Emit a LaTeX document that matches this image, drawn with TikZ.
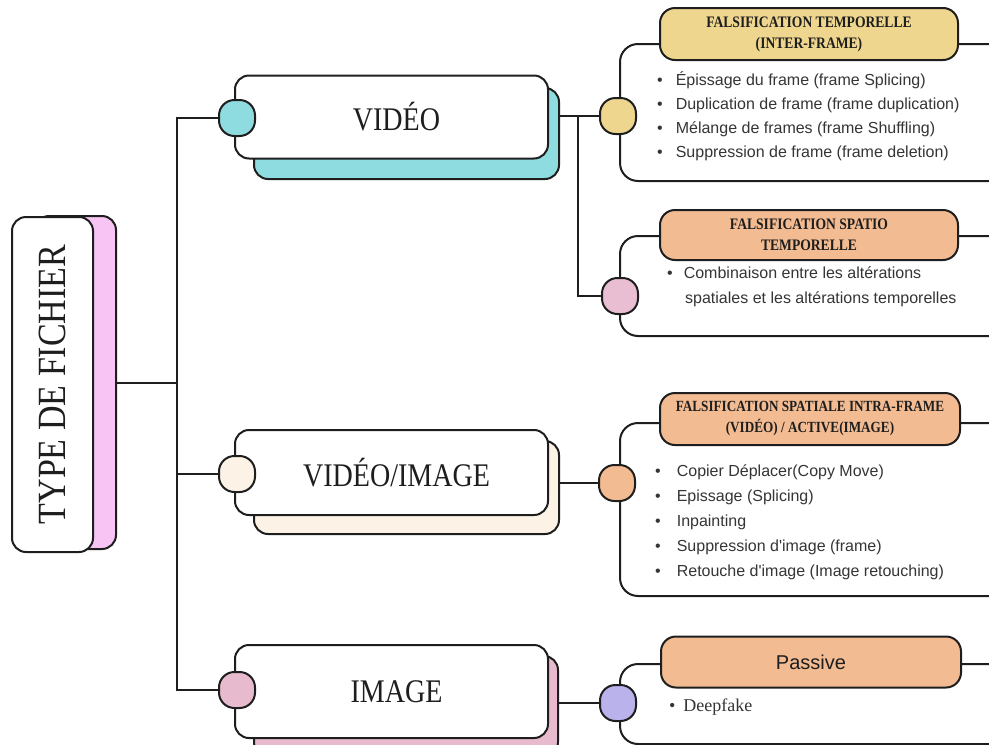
\documentclass[tikz,border=0pt]{standalone}
\usepackage{fontspec}
\setmainfont{Liberation Serif}
\setsansfont{Liberation Sans}
\newfontfamily\etroit[FakeStretch=0.85]{Liberation Serif}

\definecolor{encre}{HTML}{1E1E1E}
\definecolor{turquoise}{HTML}{8EDCE0}
\definecolor{creme}{HTML}{FCF3E6}
\definecolor{rosevieux}{HTML}{E8BACE}
\definecolor{rosevif}{HTML}{F8C4F4}
\definecolor{ocre}{HTML}{EFD68E}
\definecolor{peche}{HTML}{F3BB91}
\definecolor{rosepale}{HTML}{E9BED2}
\definecolor{lavande}{HTML}{B9B2EB}

\tikzset{
  trait/.style={draw=encre, line width=2pt},
  carte/.style={trait, fill=white, rounded corners=14pt, minimum width=313pt, inner sep=0pt,
    text=encre, font=\etroit\fontsize{33}{36}\selectfont},
  ombre/.style={trait, rounded corners=14pt, inner sep=0pt, anchor=north west},
  pastille/.style={trait, rounded corners=15.5pt, minimum size=36pt, inner sep=0pt},
  cadre/.style={trait, fill=white, rounded corners=18pt, minimum width=400pt, inner sep=0pt, anchor=north west},
  bandeau/.style={trait, rounded corners=15pt, inner sep=0pt, align=center, text=encre,
    font=\etroit\bfseries\fontsize{16}{21}\selectfont},
  puce/.style={anchor=base west, inner sep=0pt, text=encre!90, font=\sffamily\fontsize{16}{20}\selectfont},
}

\begin{document}
\begin{tikzpicture}[x=1pt, y=-1pt]
  \useasboundingbox (0,0) rectangle (989,745);
  \clip (0,0) rectangle (989,745);

  % racine
  \node[ombre, fill=rosevif, minimum width=81pt, minimum height=333pt] (racine-ombre) at (34,215) {};
  \node[carte, rotate=90, minimum width=335pt, minimum height=81pt,
    font=\etroit\fontsize{40}{40}\selectfont] (racine) at (52.5,384.5) {TYPE DE FICHIER};

  % les trois types
  \node[ombre, fill=turquoise, minimum width=305pt, minimum height=91pt] (ombre-video) at (253,87) {};
  \node[carte, minimum height=83pt] (video) at (391.5,117) {\hspace{10pt}VIDÉO};
  \node[pastille, fill=turquoise] (p-video) at (237,118) {};

  \node[ombre, fill=creme, minimum width=305pt, minimum height=93pt] (ombre-vi) at (253,440) {};
  \node[carte, minimum height=85pt] (vi) at (391.5,472.5) {\hspace{10pt}VIDÉO/IMAGE};
  \node[pastille, fill=creme] (p-vi) at (237,474) {};

  \node[ombre, fill=rosevieux, minimum width=304pt, minimum height=100pt] (ombre-image) at (253,655) {};
  \node[carte, minimum height=93pt] (image) at (391.5,691.5) {\hspace{10pt}IMAGE};
  \node[pastille, fill=rosevieux] (p-image) at (237,690) {};

  % tronc
  \coordinate (tronc) at (177,383);
  \draw[trait] (racine-ombre.east |- tronc) -- (tronc);
  \draw[trait] (p-video.west) -| (tronc) |- (p-image.west);
  \draw[trait] (tronc |- p-vi) -- (p-vi.west);

  % cadres de droite
  \node[cadre, minimum height=137pt] (cadre-inter) at (619,43) {};
  \node[bandeau, fill=ocre, minimum width=298pt, minimum height=52pt] (titre-inter) at (809,34)
    {FALSIFICATION TEMPORELLE\\(INTER-FRAME)};

  \node[cadre, minimum height=100pt] (cadre-spatio) at (619,235) {};
  \node[bandeau, fill=peche, minimum width=298pt, minimum height=50pt] (titre-spatio) at (809,235)
    {FALSIFICATION SPATIO\\TEMPORELLE};

  \node[cadre, minimum height=173pt] (cadre-intra) at (619,422) {};
  \node[bandeau, fill=peche, minimum width=300pt, minimum height=52pt,
    font=\etroit\bfseries\fontsize{15.5}{21}\selectfont] (titre-intra) at (810,419)
    {FALSIFICATION SPATIALE INTRA-FRAME\\(VIDÉO) / ACTIVE(IMAGE)};

  \node[cadre, minimum height=80pt] (cadre-passive) at (619,663) {};
  \node[bandeau, fill=peche, minimum width=300pt, minimum height=51pt,
    font=\sffamily\fontsize{20}{24}\selectfont] (titre-passive) at (811,662) {Passive};

  \node[pastille, fill=ocre] (p-inter) at (618,116) {};
  \node[pastille, fill=rosepale] (p-spatio) at (620,296) {};
  \node[pastille, fill=peche] (p-intra) at (617,483) {};
  \node[pastille, fill=lavande] (p-passive) at (618,703) {};

  % liaisons
  \coordinate (fourche) at (578,116);
  \draw[trait] (ombre-video.east |- p-inter) -- (p-inter.west);
  \draw[trait] (fourche) |- (p-spatio.west);
  \draw[trait] (ombre-vi.east |- p-intra) -- (p-intra.west);
  \draw[trait] (ombre-image.east |- p-passive) -- (p-passive.west);

  % listes
  \foreach \ligne [count=\i from 0] in {Épissage du frame (frame Splicing),
      Duplication de frame (frame duplication), Mélange de frames (frame Shuffling),
      Suppression de frame (frame deletion)}
    \node[puce] (inter-\i) at (657,85+24*\i) {\textbullet\hspace{13pt}\ligne};

  \node[puce] (spatio-0) at (667,278) {\textbullet\hspace{11pt}Combinaison entre les altérations};
  \node[puce] (spatio-1) at (685,303) {spatiales et les altérations temporelles};

  \foreach \ligne [count=\i from 0] in {Copier Déplacer(Copy Move), Epissage (Splicing),
      Inpainting, Suppression d\textquotesingle image (frame),
      Retouche d\textquotesingle image (Image retouching)}
    \node[puce] (intra-\i) at (655,476+25*\i) {\textbullet\hspace{16pt}\ligne};

  \node[puce, font=\fontsize{18}{20}\selectfont] (passive-0) at (669,711) {\textbullet\hspace{8pt}Deepfake};
\end{tikzpicture}
\end{document}
